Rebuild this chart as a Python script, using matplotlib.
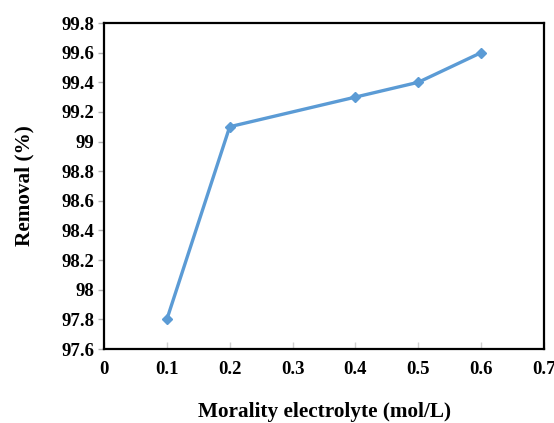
import matplotlib
matplotlib.use('Agg')
import matplotlib.pyplot as plt

# electrolyte molarity (mol/L) vs removal (%)
molarity = [0.1, 0.2, 0.4, 0.5, 0.6]
removal = [97.8, 99.1, 99.3, 99.4, 99.6]

x_ticks = [0, 0.1, 0.2, 0.3, 0.4, 0.5, 0.6, 0.7]
x_labels = ['0', '0.1', '0.2', '0.3', '0.4', '0.5', '0.6', '0.7']
y_ticks = [97.6, 97.8, 98, 98.2, 98.4, 98.6, 98.8, 99, 99.2, 99.4, 99.6, 99.8]
y_labels = ['97.6', '97.8', '98', '98.2', '98.4', '98.6', '98.8', '99',
            '99.2', '99.4', '99.6', '99.8']

plt.rcParams['font.family'] = ['Liberation Serif', 'DejaVu Serif']
plt.rcParams['font.weight'] = 'bold'

fig = plt.figure(figsize=(5.54, 4.23), dpi=100)
ax = fig.add_axes([104 / 554, 1 - 349 / 423, 440 / 554, 326 / 423])

ax.plot(molarity, removal, color='#5B9BD5', linewidth=2.4,
        marker='D', markersize=5.5)

ax.set_xlim(0, 0.7)
ax.set_ylim(97.6, 99.8)
ax.set_xticks(x_ticks)
ax.set_xticklabels(x_labels)
ax.set_yticks(y_ticks)
ax.set_yticklabels(y_labels)

for s in ax.spines.values():
    s.set_linewidth(1.6)
    s.set_color('black')

ax.tick_params(axis='x', direction='in', length=5, width=1, color='#d0d0d0',
               labelsize=13.5, pad=9)
ax.tick_params(axis='y', direction='out', length=4, width=1, color='#b0b0b0',
               labelsize=13.5, pad=3)

ax.set_xlabel('Morality electrolyte (mol/L)', fontsize=15.3, fontweight='bold',
              labelpad=17)
ax.set_ylabel('Removal (%)', fontsize=15.3, fontweight='bold', labelpad=19)

fig.savefig('out.png', dpi=100)
